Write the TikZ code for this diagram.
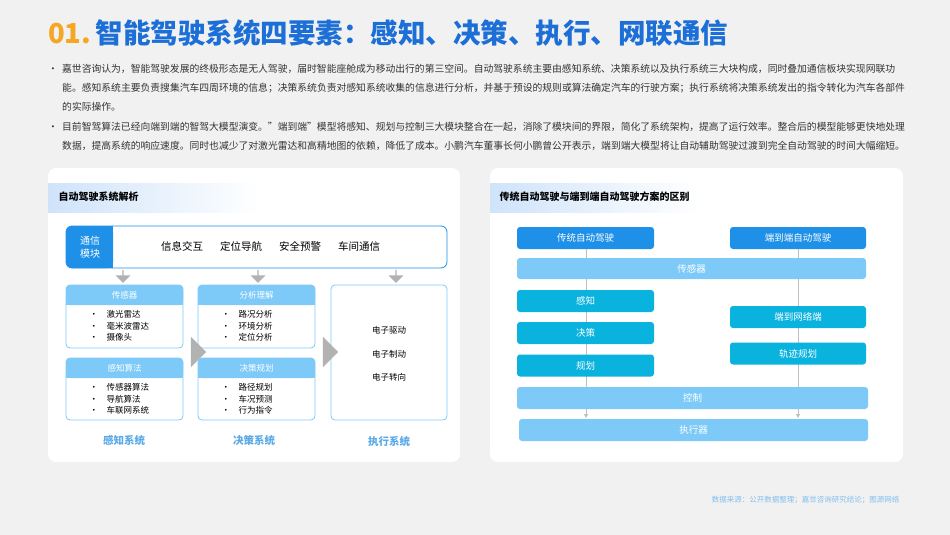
\documentclass[tikz,border=0pt]{standalone}
\usepackage{fontspec}
\setmainfont{Noto Sans CJK SC}
\usetikzlibrary{shapes.arrows,arrows.meta}
\definecolor{bg}{HTML}{F1F1F1}
\definecolor{ttl}{HTML}{1C6FD6}
\definecolor{org}{HTML}{F5A623}
\definecolor{dblue}{HTML}{1E90E8}
\definecolor{lblue}{HTML}{7DCAF9}
\definecolor{cyanb}{HTML}{0AB2DE}
\definecolor{hdr}{HTML}{CFE3FA}
\definecolor{lab}{HTML}{5AAAE8}
\definecolor{txt}{HTML}{333333}
\tikzset{
  panel/.style={fill=white,rounded corners=8pt,draw=none},
  card/.style={draw=lblue,line width=0.8pt,rounded corners=4pt,fill=white},
  item/.style={font=\fontsize{8.5}{11.5}\selectfont,text=black,align=left,anchor=north west},
  sys/.style={font=\fontsize{10.5}{12}\selectfont\bfseries,text=lab},
  bar/.style={rounded corners=3pt,text=white,font=\fontsize{9.5}{11}\selectfont},
  garrow/.style={fill=black!30,draw=none,single arrow,shape border rotate=270,minimum height=13pt,minimum width=15pt,single arrow head extend=2pt,inner sep=0pt},
  rarrow/.style={fill=black!30,draw=none,single arrow,minimum height=14pt,minimum width=30pt,single arrow head extend=0pt,inner sep=0pt},
  vline/.style={draw=black!25,line width=1pt},
}
\begin{document}
\begin{tikzpicture}[x=1pt,y=-1pt]
\fill[bg] (0,0) rectangle (950,535);
\useasboundingbox (0,0) rectangle (950,535);
% title
\node[anchor=west,inner sep=0,font=\fontsize{27.5}{30}\selectfont\bfseries] (title) at (48,33) {\textcolor{org}{01.}\,\textcolor{ttl}{智能驾驶系统四要素：感知、决策、执行、网联通信}};
% bullets
\node[anchor=north west,inner sep=0,text width=870pt,font=\fontsize{9.8}{19.2}\selectfont,text=txt,align=left] (para) at (48,64) {%
\makebox[14pt][l]{•}嘉世咨询认为，智能驾驶发展的终极形态是无人驾驶，届时智能座舱成为移动出行的第三空间。自动驾驶系统主要由感知系统、决策系统以及执行系统三大块构成，同时叠加通信板块实现网联功\par
\hspace*{14pt}能。感知系统主要负责搜集汽车四周环境的信息；决策系统负责对感知系统收集的信息进行分析，并基于预设的规则或算法确定汽车的行驶方案；执行系统将决策系统发出的指令转化为汽车各部件\par
\hspace*{14pt}的实际操作。\par
\makebox[14pt][l]{•}目前智驾算法已经向端到端的智驾大模型演变。"端到端”模型将感知、规划与控制三大模块整合在一起，消除了模块间的界限，简化了系统架构，提高了运行效率。整合后的模型能够更快地处理\par
\hspace*{14pt}数据，提高系统的响应速度。同时也减少了对激光雷达和高精地图的依赖，降低了成本。小鹏汽车董事长何小鹏曾公开表示，端到端大模型将让自动辅助驾驶过渡到完全自动驾驶的时间大幅缩短。};
% panels
\fill[panel] (48,168) rectangle (460,462);
\fill[panel] (490,168) rectangle (903,462);
\shade[left color=hdr,right color=white] (48,183) rectangle (260,212);
\shade[left color=hdr,right color=white] (490,183) rectangle (700,212);
\node[anchor=west,font=\fontsize{10}{11}\selectfont\bfseries] (h1) at (55,197) {自动驾驶系统解析};
\node[anchor=west,font=\fontsize{10}{11}\selectfont\bfseries] (h2) at (496,197) {传统自动驾驶与端到端自动驾驶方案的区别};
% comm module
\draw[dblue,line width=0.8pt,rounded corners=6pt,fill=white] (66,226) rectangle (447,268);
\fill[dblue,rounded corners=6pt] (66,226) -- (113,226) -- (113,268) -- (66,268) -- cycle;
\fill[dblue] (100,226) rectangle (113,268);
\node[text=white,align=center,font=\fontsize{10}{13}\selectfont] (tx) at (90,247) {通信\\模块};
\foreach \x/\t [count=\i] in {182/信息交互,241/定位导航,300/安全预警,359/车间通信}
  \node[font=\fontsize{10.5}{12}\selectfont] (c\i) at (\x,246) {\t};
% down arrows
\node[garrow] (d1) at (123,276) {};
\node[garrow] (d2) at (258,276) {};
\node[garrow] (d3) at (396,276) {};
% cards
\newcommand{\card}[7]{%
  \draw[card] (#1,#2) rectangle (#3,#4);
  \fill[lblue,rounded corners=4pt] (#1,#2) rectangle (#3,#2+20);
  \fill[lblue] (#1,#2+12) rectangle (#3,#2+20);
  \node[text=white,font=\fontsize{8.5}{9}\selectfont] (#7) at ({(#1+#3)/2},#2+10) {#5};
  \node[item] at (#1+20,#2+22) {#6};}
\card{66}{285}{183}{348}{传感器}{•\quad 激光雷达\\•\quad 毫米波雷达\\•\quad 摄像头}{k1}
\card{66}{358}{183}{420}{感知算法}{•\quad 传感器算法\\•\quad 导航算法\\•\quad 车联网系统}{k2}
\card{198}{285}{315}{348}{分析理解}{•\quad 路况分析\\•\quad 环境分析\\•\quad 定位分析}{k3}
\card{198}{358}{315}{420}{决策规划}{•\quad 路径规划\\•\quad 车况预测\\•\quad 行为指令}{k4}
\draw[card] (331,285) rectangle (447,420);
\node[font=\fontsize{8.5}{9}\selectfont] (e1) at (389,330) {电子驱动};
\node[font=\fontsize{8.5}{9}\selectfont] (e2) at (389,354) {电子制动};
\node[font=\fontsize{8.5}{9}\selectfont] (e3) at (389,377) {电子转向};
\node[rarrow] (r1) at (191,352) {};
\node[rarrow] (r2) at (323,352) {};
\node[sys] (s1) at (124,440) {感知系统};
\node[sys] (s2) at (254,440) {决策系统};
\node[sys] (s3) at (389,441) {执行系统};
% right diagram
\coordinate (la) at (586,249); \coordinate (lb) at (586,418);
\coordinate (ra) at (798,249); \coordinate (rb) at (798,418);
\draw[vline,-{Triangle[length=4pt,width=4pt]}] (la) -- (lb);
\draw[vline,-{Triangle[length=4pt,width=4pt]}] (ra) -- (rb);
\node[bar,fill=dblue,minimum width=137pt,minimum height=22pt,inner sep=0] (t1) at (585.5,238) {传统自动驾驶};
\node[bar,fill=dblue,minimum width=136pt,minimum height=22pt,inner sep=0] (t2) at (798,238) {端到端自动驾驶};
\node[bar,fill=lblue,minimum width=349pt,minimum height=21pt,inner sep=0] (b1) at (691.5,268.5) {传感器};
\node[bar,fill=cyanb,minimum width=137pt,minimum height=22pt,inner sep=0] (p1) at (585.5,301) {感知};
\node[bar,fill=cyanb,minimum width=137pt,minimum height=22pt,inner sep=0] (p2) at (585.5,333) {决策};
\node[bar,fill=cyanb,minimum width=137pt,minimum height=22pt,inner sep=0] (p3) at (585.5,365.5) {规划};
\node[bar,fill=cyanb,minimum width=136pt,minimum height=22pt,inner sep=0] (q1) at (798,317) {端到网络端};
\node[bar,fill=cyanb,minimum width=136pt,minimum height=22pt,inner sep=0] (q2) at (798,353.5) {轨迹规划};
\node[bar,fill=lblue,minimum width=351pt,minimum height=22pt,inner sep=0] (b2) at (692.5,398) {控制};
\node[bar,fill=lblue,minimum width=349pt,minimum height=22pt,inner sep=0] (b3) at (693.5,430) {执行器};
% footer
\node[anchor=east,text=lab!75,font=\fontsize{7.5}{8}\selectfont] (src) at (903,500) {数据来源：公开数据整理；嘉世咨询研究结论；图源网络};
\end{tikzpicture}
\end{document}
